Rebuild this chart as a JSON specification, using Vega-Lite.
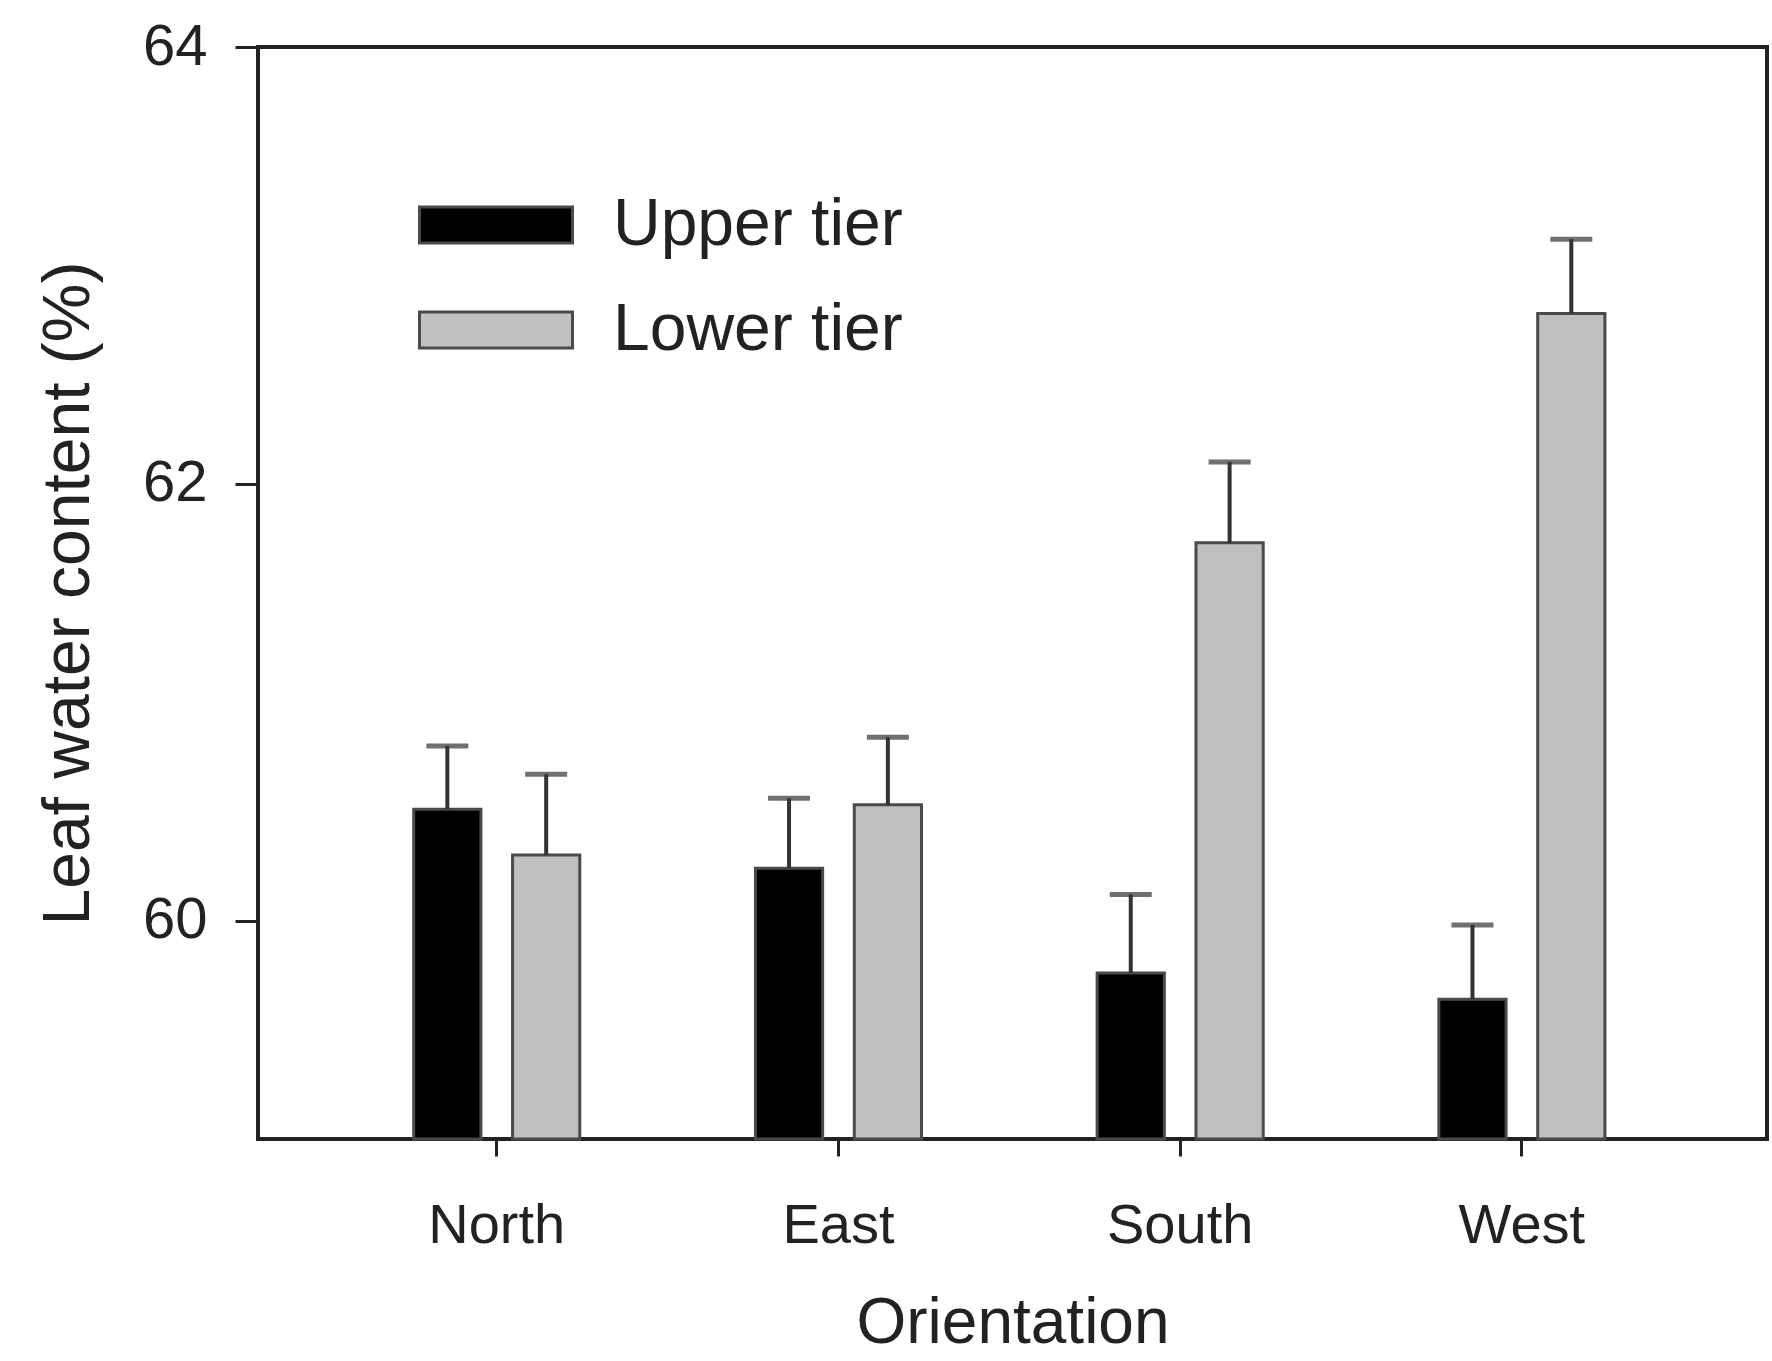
{
  "$schema": "https://vega.github.io/schema/vega-lite/v6.json",
  "autosize": {"type": "none"},
  "padding": {"left": 258, "top": 47, "right": 5, "bottom": 222},
  "width": 1509,
  "height": 1092,
  "background": "white",
  "config": {
    "font": "Liberation Sans",
    "view": {"stroke": "#222", "strokeWidth": 4},
    "axis": {"grid": false, "domainColor": "#222", "domainWidth": 3, "tickColor": "#222", "tickWidth": 3, "labelColor": "#222", "titleColor": "#222", "labelFont": "Liberation Sans", "titleFont": "Liberation Sans", "titleFontWeight": "normal"},
    "legend": {"labelFont": "Liberation Sans"}
  },
  "data": {
    "values": [
      {"orientation": "North", "tier": "Upper tier", "value": 60.51, "hi": 60.80},
      {"orientation": "North", "tier": "Lower tier", "value": 60.30, "hi": 60.67},
      {"orientation": "East", "tier": "Upper tier", "value": 60.24, "hi": 60.56},
      {"orientation": "East", "tier": "Lower tier", "value": 60.53, "hi": 60.84},
      {"orientation": "South", "tier": "Upper tier", "value": 59.76, "hi": 60.12},
      {"orientation": "South", "tier": "Lower tier", "value": 61.73, "hi": 62.10},
      {"orientation": "West", "tier": "Upper tier", "value": 59.64, "hi": 59.98},
      {"orientation": "West", "tier": "Lower tier", "value": 62.78, "hi": 63.12}
    ]
  },
  "encoding": {
    "x": {
      "field": "orientation", "type": "nominal",
      "sort": ["North", "East", "South", "West"],
      "scale": {"paddingInner": 0.514, "paddingOuter": 0.465, "align": 0.49},
      "axis": {"title": "Orientation", "labelAngle": 0, "labelFontSize": 56, "titleFontSize": 64, "tickSize": 17, "labelPadding": 42, "titlePadding": 38, "domain": false}
    },
    "xOffset": {
      "field": "tier", "type": "nominal",
      "sort": ["Upper tier", "Lower tier"],
      "scale": {"paddingInner": 0.32, "paddingOuter": 0}
    }
  },
  "layer": [
    {
      "mark": {"type": "bar", "stroke": "#4a4a4a", "strokeWidth": 3},
      "encoding": {
        "y": {
          "field": "value", "type": "quantitative",
          "scale": {"domain": [59, 64], "zero": false, "nice": false},
          "axis": {"title": "Leaf water content (%)", "values": [60, 62, 64], "format": "d", "labelFontSize": 58, "titleFontSize": 66, "tickSize": 23, "labelPadding": 28, "titlePadding": 40, "domain": false}
        },
        "y2": {"datum": 59},
        "color": {
          "field": "tier", "type": "nominal",
          "sort": ["Upper tier", "Lower tier"],
          "scale": {"domain": ["Upper tier", "Lower tier"], "range": ["#000000", "#c0c0c0"]},
          "legend": {
            "title": null,
            "orient": "none",
            "legendX": 160,
            "legendY": 143,
            "padding": 0,
            "symbolType": "M-1,-0.235H1V0.235H-1Z",
            "symbolSize": 23409,
            "symbolStrokeColor": "#4a4a4a",
            "symbolStrokeWidth": 3,
            "symbolOpacity": 1,
            "clipHeight": 70,
            "rowPadding": 35,
            "labelFontSize": 66,
            "labelLimit": 0,
            "labelColor": "#222",
            "labelOffset": 39
          }
        }
      }
    },
    {
      "mark": {"type": "rule", "color": "#333", "strokeWidth": 4},
      "encoding": {
        "y": {"field": "value", "type": "quantitative"},
        "y2": {"field": "hi"}
      }
    },
    {
      "mark": {"type": "tick", "color": "#333", "thickness": 5, "size": 42, "orient": "horizontal"},
      "encoding": {
        "y": {"field": "hi", "type": "quantitative"}
      }
    }
  ]
}
